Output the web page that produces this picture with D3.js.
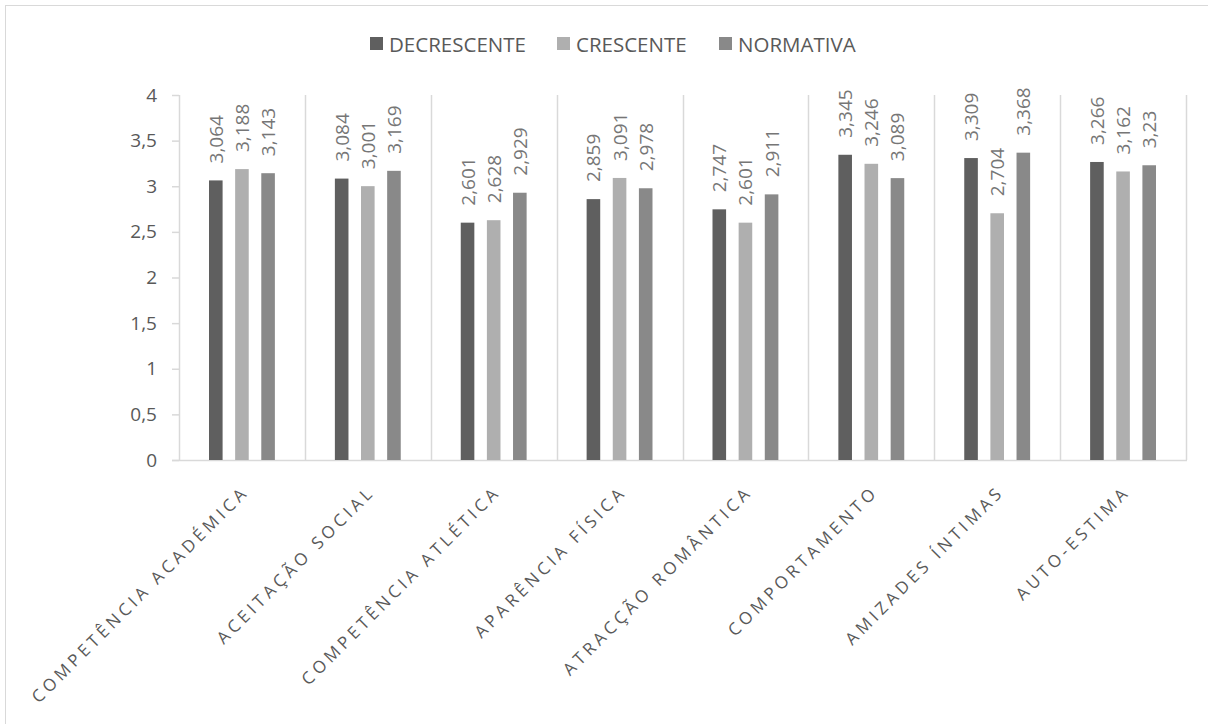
<!DOCTYPE html>
<html>
<head>
<meta charset="utf-8">
<script src="https://cdn.jsdelivr.net/npm/d3@7"></script>
<style>
  html, body { margin: 0; padding: 0; background: #fff; }
  svg { display: block; font-family: "Open Sans", sans-serif; }
</style>
</head>
<body>
<svg id="chart" width="1208" height="724"></svg>
<script>
const categories = ["COMPETÊNCIA ACADÉMICA", "ACEITAÇÃO SOCIAL", "COMPETÊNCIA ATLÉTICA", "APARÊNCIA FÍSICA",
  "ATRACÇÃO ROMÂNTICA", "COMPORTAMENTO", "AMIZADES ÍNTIMAS", "AUTO-ESTIMA"];
const seriesNames = ["DECRESCENTE", "CRESCENTE", "NORMATIVA"];
const decrescente = [3.064, 3.084, 2.601, 2.859, 2.747, 3.345, 3.309, 3.266];
const crescente   = [3.188, 3.001, 2.628, 3.091, 2.601, 3.246, 2.704, 3.162];
const normativa   = [3.143, 3.169, 2.929, 2.978, 2.911, 3.089, 3.368, 3.23];
const yTicks = [0, 0.5, 1, 1.5, 2, 2.5, 3, 3.5, 4];
const colors = ["#5f5f5f", "#afafaf", "#898989"];

const seriesValues = [decrescente, crescente, normativa];
const fmt = v => String(v).replace(".", ",");

const svg = d3.select("#chart");
const pLeft = 179, pRight = 1186, pTop = 95, pBottom = 460;

// chart border
svg.append("rect").attr("x", 5.5).attr("y", 5.5).attr("width", 1300).attr("height", 800)
  .attr("fill", "none").attr("stroke", "#d9d9d9").attr("stroke-width", 1);

const x0 = d3.scaleBand().domain(categories).range([pLeft, pRight]).padding(0);
const x1 = d3.scaleBand().domain(seriesNames).range([30, x0.bandwidth() - 30]).paddingInner(0.48).paddingOuter(0);
const y = d3.scaleLinear().domain([0, 4]).range([pBottom, pTop]);

// vertical gridlines at category boundaries
const bounds = categories.map(c => x0(c)).concat([pRight]);
svg.append("g").selectAll("line").data(bounds).join("line")
  .attr("x1", d => Math.round(d) + 0.5).attr("x2", d => Math.round(d) + 0.5)
  .attr("y1", pTop).attr("y2", pBottom)
  .attr("stroke", "#d9d9d9").attr("stroke-width", 1.5);

// y axis
const yAxis = d3.axisLeft(y).tickValues(yTicks).tickSize(7).tickPadding(15).tickFormat(fmt);
const gy = svg.append("g").attr("transform", `translate(${pLeft},0)`).call(yAxis);
gy.select(".domain").remove();
gy.selectAll(".tick line").attr("stroke", "#d9d9d9").attr("stroke-width", 1.5);
gy.selectAll(".tick text").attr("fill", "#595959").style("font-size", "19px").style("font-family", "Open Sans");

// baseline
svg.append("line").attr("x1", pLeft - 7).attr("x2", pRight + 1).attr("y1", pBottom + 0.5).attr("y2", pBottom + 0.5)
  .attr("stroke", "#d9d9d9").attr("stroke-width", 1.5);

// bars
const groups = svg.append("g").selectAll("g").data(categories).join("g")
  .attr("transform", c => `translate(${x0(c)},0)`);
groups.each(function(c, i) {
  const g = d3.select(this);
  seriesNames.forEach((s, k) => {
    const v = seriesValues[k][i];
    g.append("rect").attr("x", x1(s)).attr("y", y(v)).attr("width", x1.bandwidth())
      .attr("height", pBottom - y(v)).attr("fill", colors[k]);
    const tx = x1(s) + x1.bandwidth() / 2, ty = y(v) - 17;
    g.append("text").attr("transform", `translate(${tx},${ty}) rotate(-90)`)
      .attr("text-anchor", "start").attr("dominant-baseline", "central")
      .attr("fill", "#767676").style("font-size", "19px").text(fmt(v));
  });
});

// category labels
svg.append("g").selectAll("text").data(categories).join("text")
  .attr("transform", c => `translate(${x0(c) + x0.bandwidth() / 2 + 8},${pBottom + 33}) rotate(-45)`)
  .attr("text-anchor", "end")
  .attr("fill", "#595959").style("font-size", "17px").style("letter-spacing", "3.9px")
  .text(c => c);

// legend
const legendX = [370, 557, 719];
const lg = svg.append("g").selectAll("g").data(seriesNames).join("g")
  .attr("transform", (d, i) => `translate(${legendX[i]},37)`);
lg.append("rect").attr("width", 13).attr("height", 13).attr("fill", (d, i) => colors[i]);
lg.append("text").attr("x", 19).attr("y", 6.5).attr("dominant-baseline", "central")
  .attr("fill", "#595959").style("font-size", "20.5px").text(d => d);
</script>
</body>
</html>
